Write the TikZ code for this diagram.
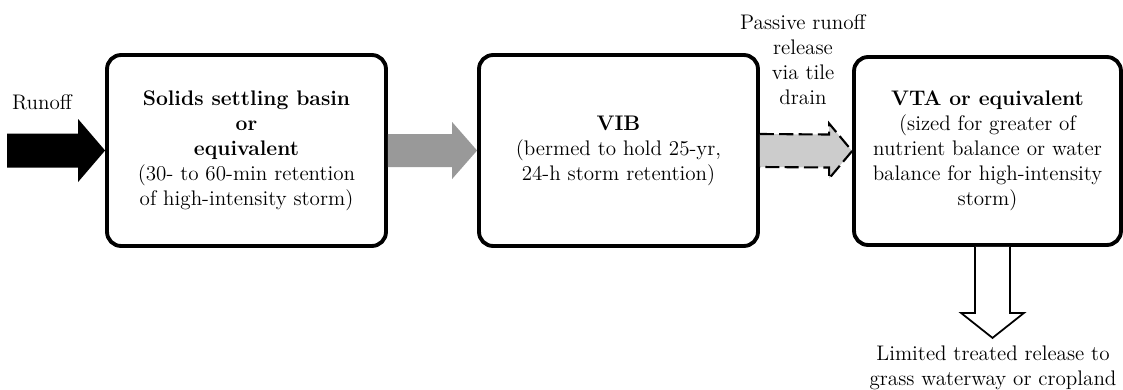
\documentclass[tikz,border=0pt]{standalone}
\usepackage{tikz}
\usetikzlibrary{calc}
\begin{document}
\begin{tikzpicture}[x=0.02cm,y=-0.02cm]

    \tikzset{stage/.style={draw,line width=2.2pt,rounded corners=8pt,fill=white,align=center,inner sep=2pt,font=\fontsize{12}{14.2}\selectfont},
             txt/.style={align=center,inner sep=0pt,font=\fontsize{12}{14.2}\selectfont}}
    \useasboundingbox (0,0) rectangle (1123,389);

    \node[stage,minimum width=5.58cm,minimum height=3.82cm](b1) at (246.5,150.5){\textbf{Solids settling basin}\\\textbf{or}\\\textbf{equivalent}\\(30- to 60-min retention\\of high-intensity storm)};
    \node[stage,minimum width=5.58cm,minimum height=3.82cm](b2) at (618.5,150.5){\textbf{VIB}\\(bermed to hold 25-yr,\\24-h storm retention)};
    \node[stage,minimum width=5.34cm,minimum height=3.76cm](b3) at (987.5,151){\textbf{VTA or equivalent}\\(sized for greater of\\nutrient balance or water\\balance for high-intensity\\storm)};

    \node[txt](runoff) at (42,102){Runoff};
    \node[txt](passive) at (803,60){Passive runoff\\release\\via tile\\drain};
    \node[txt](rel) at (993,368){Limited treated release to\\grass waterway or cropland};

    \coordinate (src) at (7,150.5);
    \coordinate (dtop) at ($(b3.south)+(5,0)$);
    \coordinate (dtip) at ($(dtop)+(0,91)$);

    % runoff in
    \fill ($(src)+(0,-17)$) -- ($(b1.west)+(-27,-17)$) -- ($(b1.west)+(-27,-31.5)$) -- (b1.west)
        -- ($(b1.west)+(-27,31.5)$) -- ($(b1.west)+(-27,17)$) -- ($(src)+(0,17)$) -- cycle;
    % basin to VIB
    \fill[black!40] ($(b1.east)+(0,-16.5)$) -- ($(b2.west)+(-25,-16.5)$) -- ($(b2.west)+(-25,-28.5)$) -- (b2.west)
        -- ($(b2.west)+(-25,28.5)$) -- ($(b2.west)+(-25,16.5)$) -- ($(b1.east)+(0,16.5)$) -- cycle;
    % tile drain
    \draw[fill=black!20,line width=1.2pt,dash pattern=on 8pt off 3pt] ($(b2.east)+(0,-16.5)$) -- ($(b3.west)+(-23,-16.5)$) -- ($(b3.west)+(-23,-27.5)$) -- (b3.west)
        -- ($(b3.west)+(-23,27.5)$) -- ($(b3.west)+(-23,16.5)$) -- ($(b2.east)+(0,16.5)$);
    % release out
    \draw[fill=white,line width=1pt] ($(dtop)+(-17.5,0)$) -- ($(dtip)+(-17.5,-25)$) -- ($(dtip)+(-31.5,-25)$) -- (dtip)
        -- ($(dtip)+(31.5,-25)$) -- ($(dtip)+(17.5,-25)$) -- ($(dtop)+(17.5,0)$);

\end{tikzpicture}
\end{document}
